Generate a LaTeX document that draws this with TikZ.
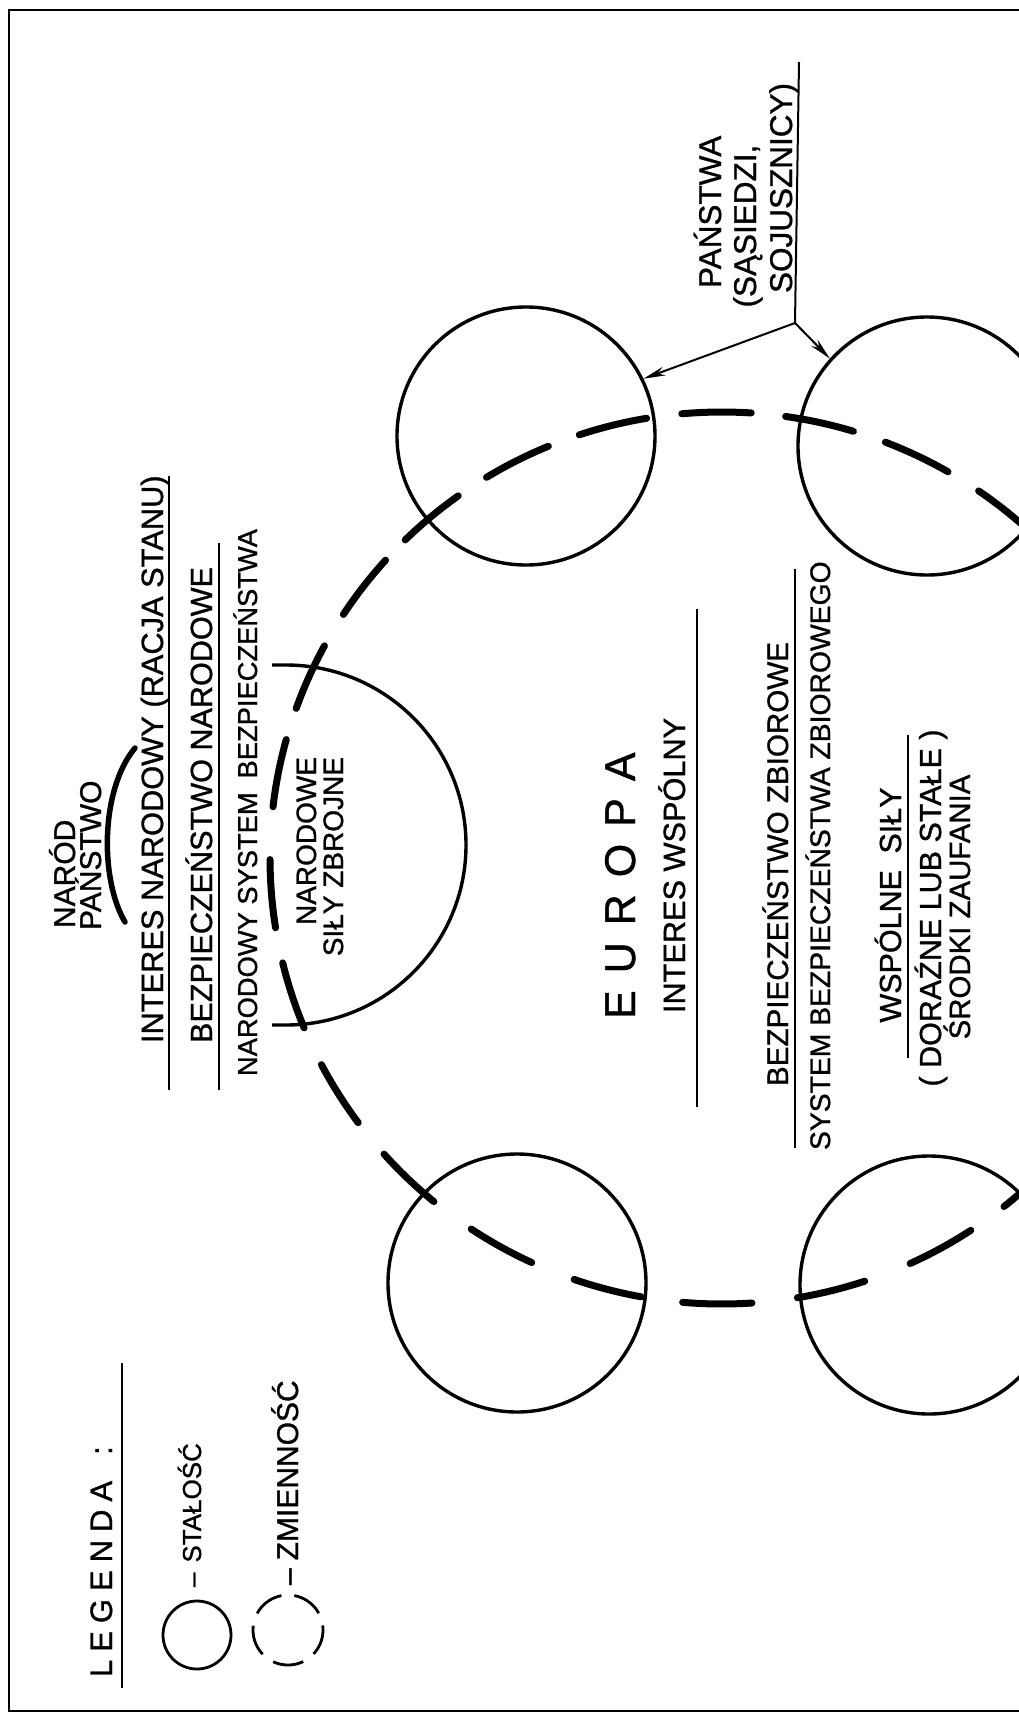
\documentclass[tikz,border=0pt]{standalone}
\usepackage{fontspec}
\setmainfont[FakeBold=1]{Liberation Sans}
\usetikzlibrary{arrows.meta}
\newcommand{\myfs}[1]{\fontsize{#1}{#1}\selectfont}
\begin{document}
\begin{tikzpicture}[x=1pt,y=-1pt,
  rt/.style={rotate=90, inner sep=0pt, outer sep=0pt},
  frame/.style={line width=2.5pt},
  circ/.style={draw, circle, line width=3.4pt, inner sep=0pt, minimum size=258pt},
  bigdash/.style={line width=7pt, line cap=round},
  uline/.style={line width=2.2pt},
  arr/.style={line width=2pt, -{Stealth[length=22pt,width=9pt]}}
]
\fill[white] (0,0) rectangle (1019,1718);
\useasboundingbox (0,0) rectangle (1019,1718);
\draw[frame] (1019,10) -- (9,10) -- (9,1711) -- (1019,1711);

% legend
\node[rt, anchor=base west, font=\myfs{31}] (leg) at (112,1677) {L\hspace{8pt}E\hspace{8pt}G\hspace{8pt}E\hspace{8pt}N\hspace{8pt}D\hspace{8pt}A\hspace{26pt}:};
\draw[uline] (122,1363) -- (122,1688);
\node[draw, circle, line width=2.8pt, minimum size=68pt, inner sep=0pt] (lsolid) at (197,1635) {};
\node[rt, anchor=base west, font=\myfs{26}] (stal) at (201,1587) {–\hspace{10pt}STAŁOŚĆ};
\node[draw, circle, line width=2.8pt, minimum size=70pt, inner sep=0pt, dash pattern=on 31pt off 13pt, dash phase=26.4pt] (ldash) at (288,1630) {};
\node[rt, anchor=base west, font=\myfs{30}] (zmien) at (298,1585) {–\hspace{8pt}ZMIENNOŚĆ};

% national column
\node[rt, anchor=base west, font=\myfs{30}] (narod) at (75,928) {NARÓD};
\node[rt, anchor=base west, font=\myfs{30}] (panstwo) at (101,930) {PAŃSTWO};
\draw[line width=5.5pt, line cap=round] (125,922) .. controls (100,880) and (100,790) .. (135,748);
\node[rt, anchor=base west, font=\myfs{30.8}] (interes) at (163,1043) {INTERES NARODOWY (RACJA STANU)};
\draw[uline] (169,476) -- (169,1090);
\node[rt, anchor=base west, font=\myfs{30.6}] (bezp) at (212,1043) {BEZPIECZEŃSTWO NARODOWE};
\draw[uline] (219,543) -- (219,1090);
\node[rt, anchor=base west, font=\myfs{27.3}] (nsys) at (257,1076) {NARODOWY SYSTEM\hspace{14pt}BEZPIECZEŃSTWA};

% half circle
\draw[line width=3.4pt] (272,665) -- (286,665) arc[start angle=-90, end angle=90, radius=180] -- (272,1025);
\node[rt, anchor=base east, font=\myfs{28}] (nar2) at (316,757) {NARODOWE};
\node[rt, anchor=base east, font=\myfs{28}] (sily) at (343,757) {SIŁY ZBROJNE};

% small circles
\node[circ] (ul) at (526,436) {};
\node[circ] (ur) at (927,446) {};
\node[circ] (ll) at (517,1283) {};
\node[circ] (lr) at (929,1285) {};

% big dashed circle
\coordinate (C) at (722,858);
\foreach \a in {47,61,76,90.6,104.7,119.3,134,148,162,175.4,191,204,217.5,229.9,243,256,269.3,282.5,295.6,309}
  \draw[bigdash] (C) ++(\a-4.4:452 and 446) arc[start angle=\a-4.4, end angle=\a+4.4, x radius=452, y radius=446];

% arrows
\coordinate (top) at (799,62);
\coordinate (junc) at (795,323);
\draw[line width=2pt] (top) -- (junc);
\draw[arr] (junc) -- (ul.26);
\draw[arr] (junc) -- (ur.138);
\node[rt, anchor=base west, font=\myfs{31.5}] (pa1) at (721,288) {PAŃSTWA};
\node[rt, anchor=base west, font=\myfs{31.5}] (pa2) at (756,297) {\llap{(}SĄSIEDZI,};
\node[rt, anchor=base west, font=\myfs{31.5}] (pa3) at (792,293) {SOJUSZNICY)};

% europe column
\node[rt, anchor=base west, font=\myfs{43}] (europa) at (635,1019) {E\hspace{17pt}U\hspace{17pt}R\hspace{17pt}O\hspace{17pt}P\hspace{17pt}A};
\node[rt, anchor=base west, font=\myfs{30.7}] (iw) at (685,1013) {INTERES WSPÓLNY};
\draw[uline] (697,609) -- (697,1107);
\node[rt, anchor=base west, font=\myfs{29.6}] (bz) at (788,1086) {BEZPIECZEŃSTWO ZBIOROWE};
\draw[uline] (795,569) -- (795,1148);
\node[rt, anchor=base west, font=\myfs{28.3}] (sbz) at (830,1150) {SYSTEM BEZPIECZEŃSTWA ZBIOROWEGO};
\node[rt, anchor=base, font=\myfs{30.5}] (ws) at (901,905) {WSPÓLNE\hspace{8pt} SIŁY};
\draw[uline] (908,735) -- (908,1058);
\node[rt, anchor=base, font=\myfs{30.5}] (dor) at (941,908) {( DORAŹNE LUB STAŁE )};
\node[rt, anchor=base, font=\myfs{29.4}] (sz) at (970,907) {ŚRODKI ZAUFANIA};
\end{tikzpicture}
\end{document}
